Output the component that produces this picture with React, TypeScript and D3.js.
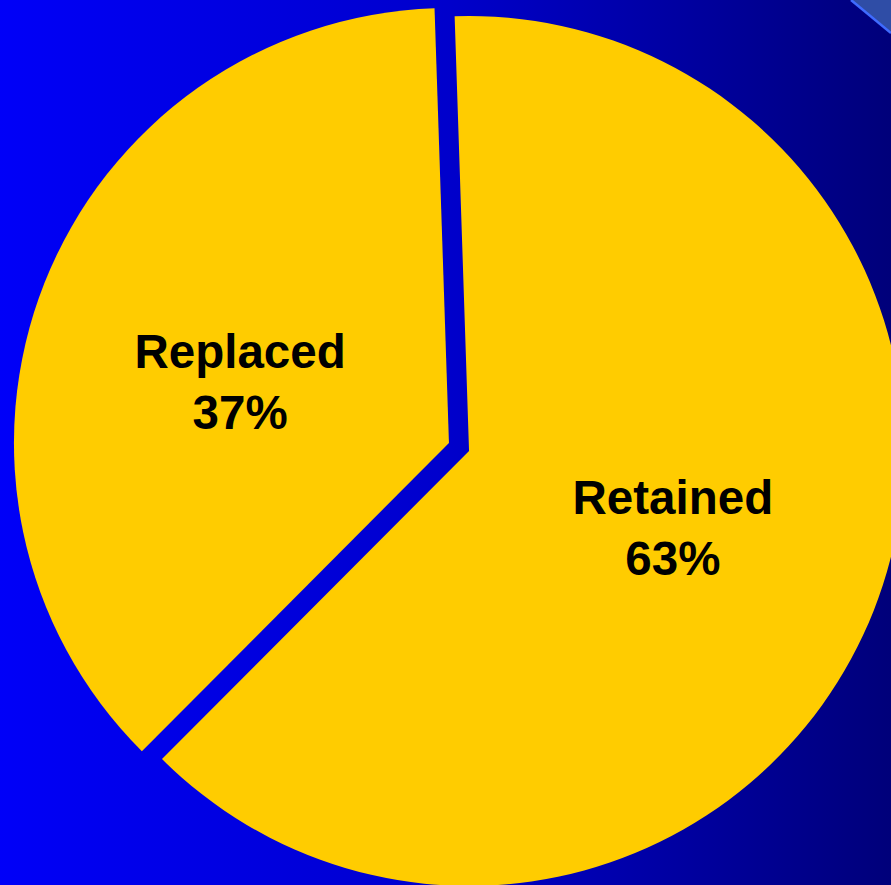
import React from "react";
import * as d3 from "d3";

const categories = ["Retained", "Replaced"];
const values = [63, 37];
const labels = ["63%", "37%"];

const W = 891;
const H = 885;

export default function App() {
  const cx = 459;
  const cy = 447;
  const radius = 435;
  const explode = 10.8;
  const start = (-1.9 * Math.PI) / 180;

  const pie = d3
    .pie<number>()
    .sort(null)
    .value((d) => d)
    .startAngle(start)
    .endAngle(start + 2 * Math.PI);
  const arcs = pie(values);
  const arcGen = d3.arc<d3.PieArcDatum<number>>().innerRadius(0).outerRadius(radius);
  const labelR = 218;
  const labelNudge = [
    [1, -2],
    [-6, 20],
  ];

  return (
    <svg
      width={W}
      height={H}
      style={{ position: "fixed", left: 0, top: 0, display: "block" }}
    >
      <defs>
        <linearGradient id="bg" x1="0" y1="0" x2="1" y2="0">
          <stop offset="0" stopColor="#0000F8" />
          <stop offset="0.5" stopColor="#0000CC" />
          <stop offset="1" stopColor="#00007A" />
        </linearGradient>
      </defs>
      <rect x={0} y={0} width={W} height={H} fill="url(#bg)" />
      <polygon points={`851,0 ${W},0 ${W},33`} fill="#2F4DA6" />
      <line x1={851} y1={0} x2={W} y2={33} stroke="#3F6BFF" strokeWidth={2.5} />
      {arcs.map((a, i) => {
        const mid = (a.startAngle + a.endAngle) / 2;
        const ox = cx + explode * Math.sin(mid);
        const oy = cy - explode * Math.cos(mid);
        const lx = ox + labelR * Math.sin(mid) + labelNudge[i][0];
        const ly = oy - labelR * Math.cos(mid) + labelNudge[i][1];
        return (
          <g key={categories[i]}>
            <path d={arcGen(a) || ""} transform={`translate(${ox},${oy})`} fill="#FFCC00" />
            <text
              x={lx}
              textAnchor="middle"
              fontFamily="'Liberation Sans', Arial, sans-serif"
              fontWeight="bold"
              fontSize={47.5}
              fill="#000"
            >
              <tspan x={lx} y={ly - 15}>{categories[i]}</tspan>
              <tspan x={lx} y={ly + 46}>{labels[i]}</tspan>
            </text>
          </g>
        );
      })}
    </svg>
  );
}
